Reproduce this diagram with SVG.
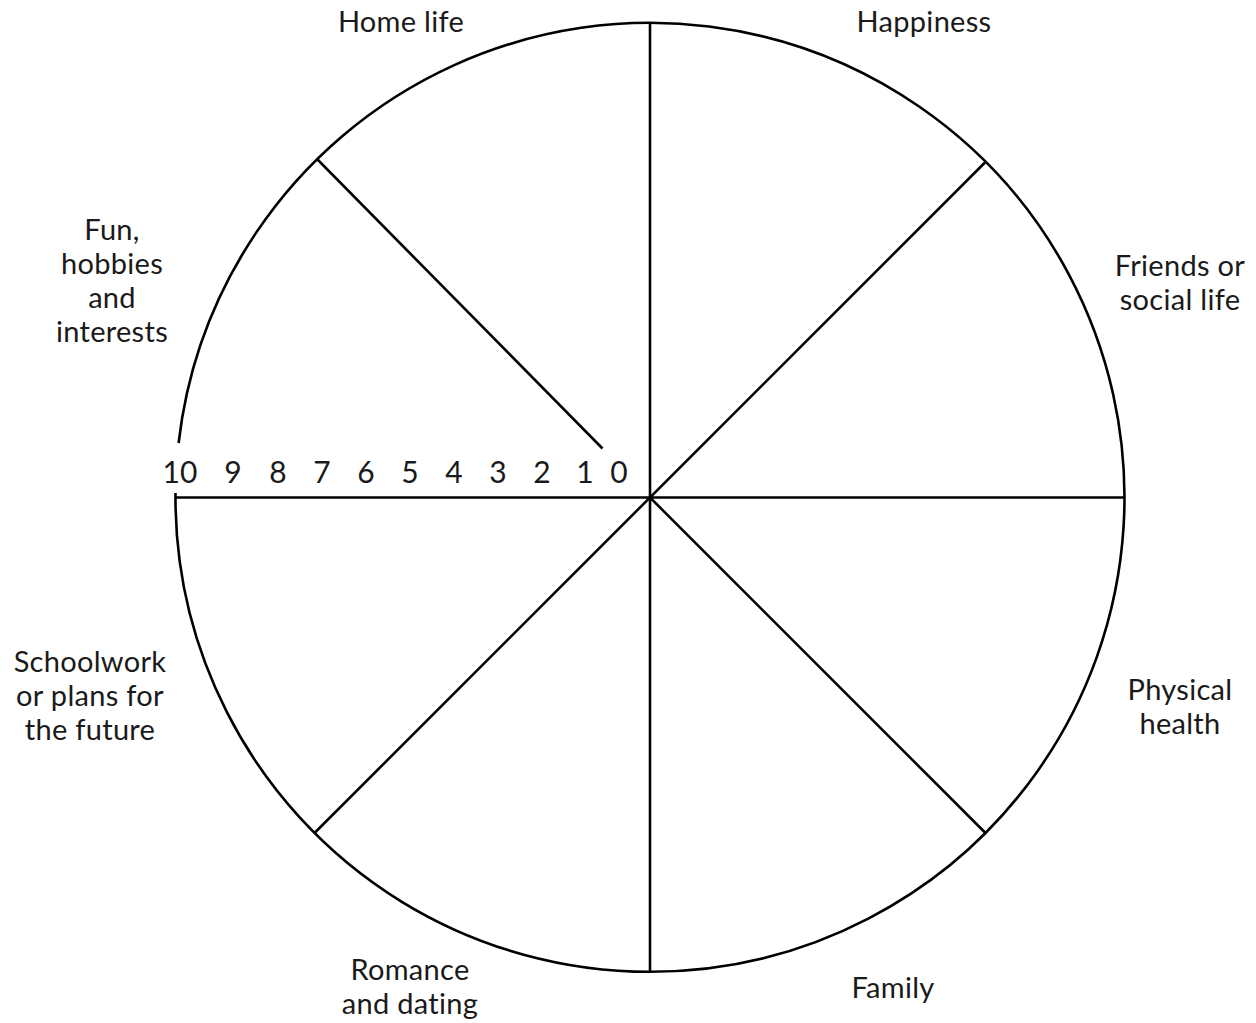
<svg xmlns="http://www.w3.org/2000/svg" width="1256" height="1023" viewBox="0 0 1256 1023">
<style>
.ln{stroke:#000;stroke-width:2.6;fill:none;stroke-linecap:butt}
.lbl{font-family:Lato,"Liberation Sans",sans-serif;font-size:29px;letter-spacing:0.3px;fill:#1a1a1a;text-anchor:middle}
.num{font-family:Lato,"Liberation Sans",sans-serif;font-size:30px;fill:#1a1a1a;text-anchor:middle}
</style>
<rect width="1256" height="1023" fill="#fff"/>
<g id="wheel">
<path class="ln" d="M178.6,443 A474.5,474.5 0 1 1 175.5,493"/>
</g>
<g id="connectors">
<line class="ln" x1="650" y1="23" x2="650" y2="972"/>
<line class="ln" x1="175.5" y1="497.5" x2="1124.5" y2="497.5"/>
<line class="ln" x1="985.5" y1="162" x2="314.5" y2="833"/>
<line class="ln" x1="985.5" y1="833" x2="650" y2="497.5"/>
<line class="ln" x1="317" y1="159" x2="602.5" y2="448.5"/>
</g>
<g id="scale">
<text class="num" x="180" y="483">10</text>
<text class="num" x="233" y="483">9</text>
<text class="num" x="278" y="483">8</text>
<text class="num" x="322" y="483">7</text>
<text class="num" x="366" y="483">6</text>
<text class="num" x="410" y="483">5</text>
<text class="num" x="454" y="483">4</text>
<text class="num" x="498" y="483">3</text>
<text class="num" x="542" y="483">2</text>
<text class="num" x="585" y="483">1</text>
<text class="num" x="619" y="483">0</text>
</g>
<g id="home-life"><text class="lbl" x="401" y="32">Home life</text></g>
<g id="happiness"><text class="lbl" x="924" y="32">Happiness</text></g>
<g id="friends"><text class="lbl" x="1180" y="276">Friends or</text><text class="lbl" x="1180" y="310">social life</text></g>
<g id="physical-health"><text class="lbl" x="1180" y="700">Physical</text><text class="lbl" x="1180" y="734">health</text></g>
<g id="family"><text class="lbl" x="893" y="998">Family</text></g>
<g id="romance"><text class="lbl" x="410" y="980">Romance</text><text class="lbl" x="410" y="1014">and dating</text></g>
<g id="schoolwork"><text class="lbl" x="90" y="672">Schoolwork</text><text class="lbl" x="90" y="706">or plans for</text><text class="lbl" x="90" y="740">the future</text></g>
<g id="fun"><text class="lbl" x="112" y="240">Fun,</text><text class="lbl" x="112" y="274">hobbies</text><text class="lbl" x="112" y="308">and</text><text class="lbl" x="112" y="342">interests</text></g>
</svg>
